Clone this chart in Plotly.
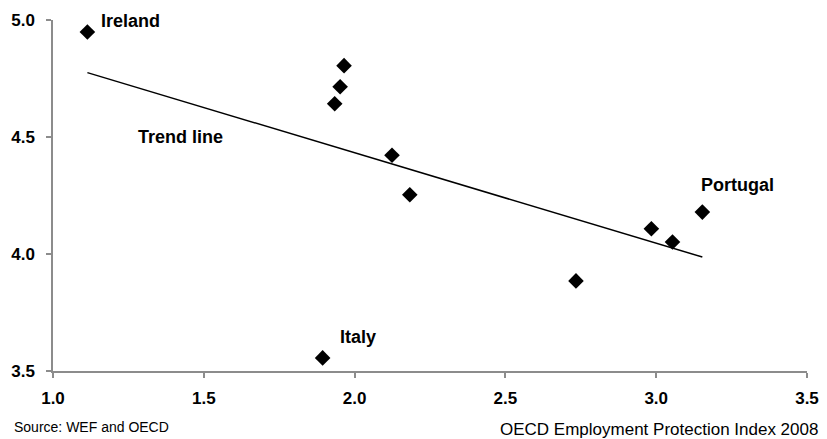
import numpy as np
import plotly.graph_objects as go

# Data
epi = [1.114, 1.965, 1.952, 1.934, 2.124, 2.183, 2.734, 2.984, 3.054, 3.153, 1.894]
score = [4.949, 4.805, 4.715, 4.642, 4.422, 4.253, 3.885, 4.108, 4.051, 4.179, 3.556]
labels = ["Ireland", "", "", "", "", "", "", "", "", "Portugal", "Italy"]
x_ticks = [1.0, 1.5, 2.0, 2.5, 3.0, 3.5]
y_ticks = [3.5, 4.0, 4.5, 5.0]

FONT = "Liberation Sans, Arial, sans-serif"

slope, intercept = np.polyfit(epi, score, 1)
tx = [min(epi), max(epi)]
ty = [slope * v + intercept for v in tx]

fig = go.Figure()
fig.add_trace(go.Scatter(x=tx, y=ty, mode="lines",
                         line=dict(color="black", width=1.5),
                         hoverinfo="skip", showlegend=False))
fig.add_trace(go.Scatter(x=epi, y=score, mode="markers",
                         marker=dict(symbol="diamond", size=12, color="black"),
                         showlegend=False, cliponaxis=False))

# country labels (pixel offsets from their markers)
offsets = {"Ireland": (12, 11), "Portugal": (-3, 27), "Italy": (15, 21)}
for x, y, lab in zip(epi, score, labels):
    if lab:
        dx, dy = offsets[lab]
        fig.add_annotation(x=x, y=y, text="<b>" + lab + "</b>", showarrow=False,
                           xanchor="left", yanchor="middle", xshift=dx, yshift=dy,
                           font=dict(family=FONT, size=18, color="black"))

fig.add_annotation(x=1.275, y=4.5, text="<b>Trend line</b>", showarrow=False,
                   xanchor="left", yanchor="middle",
                   font=dict(family=FONT, size=18, color="black"))

fig.add_annotation(xref="paper", yref="paper", x=-0.054, y=-0.16,
                   xanchor="left", yanchor="middle", showarrow=False,
                   text="Source: WEF and OECD",
                   font=dict(family=FONT, size=14, color="black"))
fig.add_annotation(xref="paper", yref="paper", x=1.017, y=-0.168,
                   xanchor="right", yanchor="middle", showarrow=False,
                   text="OECD Employment Protection Index 2008",
                   font=dict(family=FONT, size=17, color="black"))

axis_common = dict(showgrid=False, zeroline=False, showline=True, automargin=False,
                   linecolor="#8c8c8c", linewidth=1.5, ticks="outside",
                   tickcolor="#8c8c8c", ticklen=5, tickwidth=1.5,
                   tickfont=dict(family=FONT, size=17, color="black"))

fig.update_xaxes(range=[1.0, 3.5], tickvals=x_ticks, ticklabelstandoff=6,
                 ticktext=["<b>%.1f</b>" % v for v in x_ticks], **axis_common)
fig.update_yaxes(range=[3.5, 5.0], tickvals=y_ticks, ticklabelstandoff=8,
                 ticktext=["<b>%.1f</b>" % v for v in y_ticks], **axis_common)

fig.update_layout(width=819, height=431, plot_bgcolor="white", paper_bgcolor="white",
                  margin=dict(l=45, r=20, t=12, b=68, autoexpand=False), showlegend=False)

fig.write_html("out.html")
